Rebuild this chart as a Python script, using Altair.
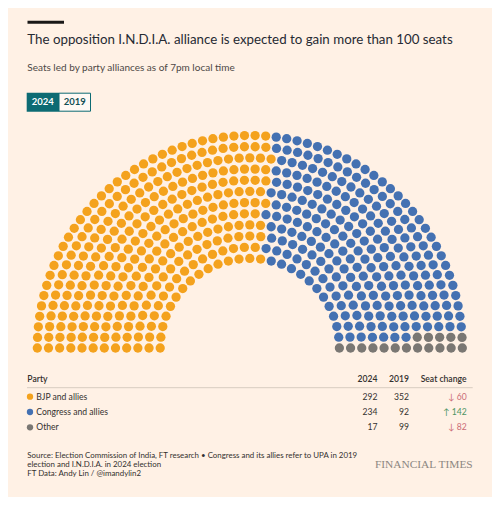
import altair as alt
import numpy as np
import pandas as pd

# ---------------- data ----------------
parties = ["BJP and allies", "Congress and allies", "Other"]
seats_2024 = [292, 234, 17]
seats_2019 = [352, 92, 99]
party_colors = ["#F4A21D", "#4471B2", "#7A7773"]

title = "The opposition I.N.D.I.A. alliance is expected to gain more than 100 seats"
subtitle = "Seats led by party alliances as of 7pm local time"
toggle_labels = ["2024", "2019"]
footer_lines = [
    "Source: Election Commission of India, FT research \u2022 Congress and its allies refer to UPA in 2019",
    "election and I.N.D.I.A. in 2024 election",
    "FT Data: Andy Lin / @imandylin2",
]
brand = "FINANCIAL TIMES"

N_ROWS = 12
INNER_RATIO = 0.4216

# ---------------- hemicycle layout ----------------
total = sum(seats_2024)
radii = np.linspace(INNER_RATIO, 1.0, N_ROWS)
raw = total * radii / radii.sum()
counts = np.floor(raw).astype(int)
rem = total - counts.sum()
order = np.argsort(-(raw - counts))
counts[order[:rem]] += 1

seats = []
for r, n in zip(radii, counts):
    for k in range(n):
        th = np.pi * (1 - k / (n - 1))
        seats.append((round(th, 9), r))
seats.sort(key=lambda s: (-s[0], s[1]))

party_of_seat = []
for p, n in zip(parties, seats_2024):
    party_of_seat += [p] * n

hemi = pd.DataFrame({
    "x": [r * np.cos(t) for t, r in seats],
    "y": [r * np.sin(t) for t, r in seats],
    "party": party_of_seat,
})

table = pd.DataFrame({
    "party": parties,
    "s24": seats_2024,
    "s19": seats_2019,
    "idx": list(range(len(parties))),
})
table["chg"] = table["s24"] - table["s19"]
table["chg_label"] = [("\u2191 " if c > 0 else "\u2193 ") + str(abs(c)) for c in table["chg"]]
table["up"] = table["chg"] > 0

FONT = "Lato"
BG = "#FFF1E5"
TEAL = "#0D6B73"
TXT = "#33302E"

color_scale = alt.Scale(domain=parties, range=party_colors)

dots = alt.Chart(hemi).mark_circle(size=86, opacity=1).encode(
    x=alt.X("x:Q", scale=alt.Scale(domain=[-1, 1], range=[29.3, 454.3]), axis=None),
    y=alt.Y("y:Q", scale=alt.Scale(domain=[0, 1], range=[340, 127.5]), axis=None),
    color=alt.Color("party:N", scale=color_scale, legend=None),
)

one = alt.Data(values=[{"a": 1}])

top_rule = alt.Chart(one).mark_rule(color="#1A1817", strokeWidth=3).encode(
    x=alt.value(19.5), x2=alt.value(56), y=alt.value(14.2))

title_t = alt.Chart(one).mark_text(
    text=title, align="left", baseline="alphabetic", font=FONT, fontSize=13.3, color="#262A33"
).encode(x=alt.value(19.3), y=alt.value(35.5))

sub_t = alt.Chart(one).mark_text(
    text=subtitle, align="left", baseline="alphabetic", font=FONT, fontSize=10, color="#4D4845"
).encode(x=alt.value(19.3), y=alt.value(63.3))

tog1 = alt.Chart(one).mark_rect(color=TEAL).encode(
    x=alt.value(18.7), x2=alt.value(51), y=alt.value(84.7), y2=alt.value(103.7))
tog2 = alt.Chart(one).mark_rect(fill="#FFF9F4", stroke=TEAL, strokeWidth=1).encode(
    x=alt.value(51), x2=alt.value(82.5), y=alt.value(85.2), y2=alt.value(103.2))
tog1_t = alt.Chart(one).mark_text(
    text=toggle_labels[0], align="center", baseline="middle", font=FONT, fontSize=9.5,
    fontWeight="bold", color="white").encode(x=alt.value(34.8), y=alt.value(94.4))
tog2_t = alt.Chart(one).mark_text(
    text=toggle_labels[1], align="center", baseline="middle", font=FONT, fontSize=9.5,
    fontWeight="bold", color="#0F4F55").encode(x=alt.value(66.8), y=alt.value(94.4))

hdr_style = dict(baseline="middle", font=FONT, fontSize=8.6, fontWeight=600, color=TXT)
h_party = alt.Chart(one).mark_text(text="Party", align="left", **hdr_style).encode(
    x=alt.value(19.3), y=alt.value(371))
h_24 = alt.Chart(one).mark_text(text="2024", align="right", **hdr_style).encode(
    x=alt.value(369.5), y=alt.value(371))
h_19 = alt.Chart(one).mark_text(text="2019", align="right", **hdr_style).encode(
    x=alt.value(401), y=alt.value(371))
h_chg = alt.Chart(one).mark_text(text="Seat change", align="right", **hdr_style).encode(
    x=alt.value(458.5), y=alt.value(371))
h_line = alt.Chart(one).mark_rule(color="#D8CCC1", strokeWidth=1).encode(
    x=alt.value(19), x2=alt.value(464.7), y=alt.value(379.7))

ROW_FS = 8.6
row_y = alt.Y("idx:Q", scale=alt.Scale(domain=[0, 2], range=[388.7, 419.3]), axis=None)
tb = alt.Chart(table)
row_dot = tb.mark_circle(size=40, opacity=1).encode(
    x=alt.value(22), y=row_y, color=alt.Color("party:N", scale=color_scale, legend=None))
row_name = tb.mark_text(align="left", baseline="middle", font=FONT, fontSize=ROW_FS, color=TXT).encode(
    x=alt.value(28.3), y=row_y, text="party:N")
row_24 = tb.mark_text(align="right", baseline="middle", font=FONT, fontSize=ROW_FS, color=TXT).encode(
    x=alt.value(369.5), y=row_y, text="s24:Q")
row_19 = tb.mark_text(align="right", baseline="middle", font=FONT, fontSize=ROW_FS, color=TXT).encode(
    x=alt.value(401), y=row_y, text="s19:Q")
row_chg = tb.mark_text(align="right", baseline="middle", font=FONT, fontSize=ROW_FS).encode(
    x=alt.value(458.7), y=row_y, text="chg_label:N",
    color=alt.Color("up:N", scale=alt.Scale(domain=[True, False], range=["#4C9462", "#CB6B75"]), legend=None))

foot = alt.Chart(pd.DataFrame({"line": footer_lines, "i": range(len(footer_lines))})).mark_text(
    align="left", baseline="middle", font=FONT, fontSize=7.9, color=TXT).encode(
    x=alt.value(19.3),
    y=alt.Y("i:Q", scale=alt.Scale(domain=[0, 2], range=[447.7, 466.3]), axis=None),
    text="line:N")

brand_t = alt.Chart(one).mark_text(
    text=brand, align="right", baseline="middle", font="Liberation Serif", fontSize=11.4,
    color="#8D8782").encode(x=alt.value(464.7), y=alt.value(457))

chart = alt.layer(
    dots, top_rule, title_t, sub_t, tog1, tog2, tog1_t, tog2_t,
    h_party, h_24, h_19, h_chg, h_line,
    row_dot, row_name, row_24, row_19, row_chg, foot, brand_t,
).resolve_scale(x="independent", y="independent", color="independent").properties(
    width=484, height=489, autosize=alt.AutoSizeParams(type="none"), padding=0, background=BG,
).configure_view(stroke=None)

chart.save("out.html", embed_options={"renderer": "svg", "actions": False})
